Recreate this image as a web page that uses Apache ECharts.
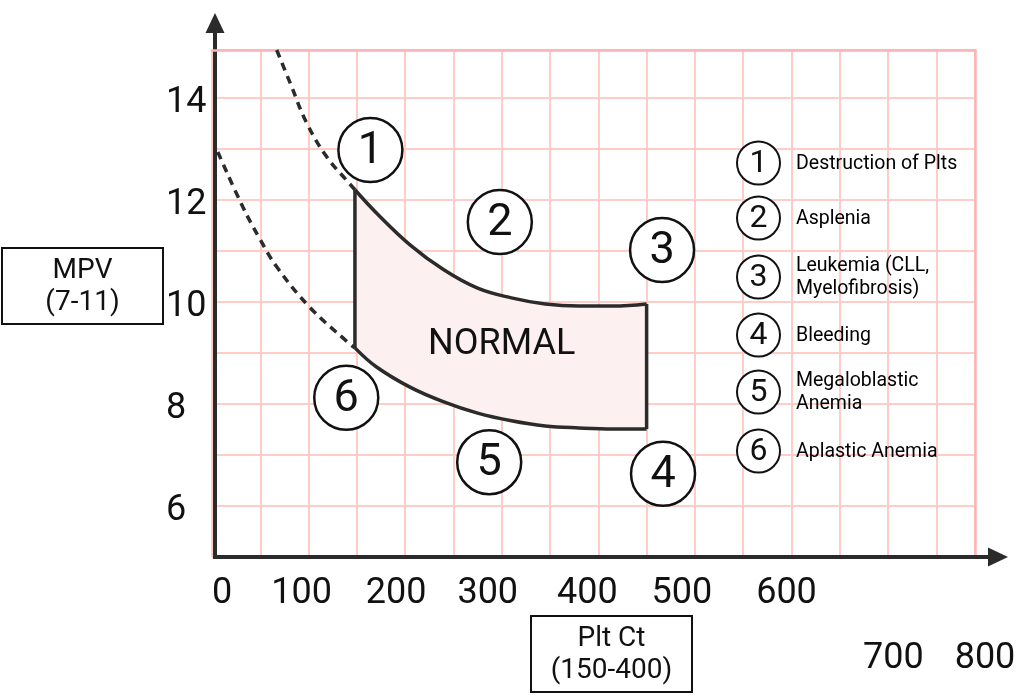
<!DOCTYPE html>
<html>
<head>
<meta charset="utf-8">
<script src="https://cdn.jsdelivr.net/npm/echarts@6/dist/echarts.min.js"></script>
<style>
html,body{margin:0;padding:0;background:#fff;}
#chart{width:1021px;height:698px;}
</style>
</head>
<body>
<div id="chart"></div>
<script>
// ---- data ----
const xLabelsTop = [0, 100, 200, 300, 400, 500, 600];
const xLabelsBottom = [700, 800];
const yLabels = [6, 8, 10, 12, 14];

// normal region boundaries (Plt count, MPV)
const upperX = [148, 170, 205, 240, 275, 310, 345, 380, 415, 450];
const upperY = [12.2, 11.75, 11.12, 10.63, 10.27, 10.08, 9.96, 9.92, 9.92, 9.96];
const lowerX = [148, 170, 205, 240, 275, 310, 345, 380, 415, 450];
const lowerY = [9.1, 8.73, 8.33, 8.04, 7.82, 7.67, 7.57, 7.53, 7.51, 7.51];

// dashed extensions
const dashUpperX = [67, 81, 98, 119, 141, 148];
const dashUpperY = [14.94, 14.29, 13.51, 12.84, 12.35, 12.2];
const dashLowerX = [6, 32, 50, 67, 101, 140, 148];
const dashLowerY = [12.94, 11.86, 11.22, 10.69, 9.9, 9.22, 9.1];

// numbered zone markers
const markerNums = ['1', '2', '3', '4', '5', '6'];
const markerX = [164, 298, 466, 467, 287, 139];
const markerY = [12.98, 11.57, 11.02, 6.63, 6.86, 8.12];

const normalLabel = 'NORMAL';
const normalLabelX = [300];
const normalLabelY = [9.16];

const legendNums = ['1', '2', '3', '4', '5', '6'];
const legendTexts = ['Destruction of Plts', 'Asplenia', 'Leukemia (CLL,\nMyelofibrosis)', 'Bleeding', 'Megaloblastic\nAnemia', 'Aplastic Anemia'];

const yTitle = 'MPV\n(7-11)';
const xTitle = 'Plt Ct\n(150-400)';

// ---- styles ----
const FONT = 'Roboto';
const INK = '#111';
const LINE = '#2b2b2b';
const GRIDPINK = '#ffcdc7';
const BORDERPINK = '#fbb3b3';
const FILL = '#fdf0f0';
const xLabelShift = {0: 10, 100: -7, 200: -9, 300: -14, 400: -11, 500: -13, 600: -5, 700: 5, 800: 0};
const legendRowY = [163, 218, 277, 335, 392, 451];

const pairs = (xs, ys) => xs.map((x, i) => [x, ys[i]]);

const rich = {};
Object.keys(xLabelShift).forEach(k => {
  const d = xLabelShift[k];
  rich['s' + k] = {fontSize: 36, fontFamily: FONT, color: INK,
    padding: [0, d < 0 ? -2 * d : 0, 0, d > 0 ? 2 * d : 0]};
});
const xFmt = list => v => list.includes(v) ? '{s' + v + '|' + v + '}' : '';
const yRich = {y: {fontSize: 36, fontFamily: FONT, color: INK, padding: [11, 0, 0, 0]}};

const chart = echarts.init(document.getElementById('chart'), null, {renderer: 'canvas'});

const graphic = [];
function box(x, y, w, h, text) {
  graphic.push({type: 'rect', shape: {x: x, y: y, width: w, height: h},
    style: {fill: '#fff', stroke: INK, lineWidth: 2}, z: 10});
  graphic.push({type: 'text', x: x + w / 2, y: y + h / 2 + 1,
    style: {text: text, fontSize: 28, fontFamily: FONT, fill: INK, align: 'center', verticalAlign: 'middle', lineHeight: 32}, z: 11});
}
box(2, 248, 161, 76, yTitle);
box(531, 616, 161, 76, xTitle);
legendNums.forEach((n, i) => {
  graphic.push({type: 'circle', shape: {cx: 758.5, cy: legendRowY[i], r: 21.5},
    style: {fill: '#fff', stroke: INK, lineWidth: 2}, z: 10});
  graphic.push({type: 'text', x: 758.5, y: legendRowY[i] + 1,
    style: {text: n, fontSize: 32, fontFamily: FONT, fill: INK, align: 'center', verticalAlign: 'middle'}, z: 11});
  graphic.push({type: 'text', x: 796, y: legendRowY[i] + 1,
    style: {text: legendTexts[i], fontSize: 19.5, fontFamily: FONT, fill: '#000', align: 'left', verticalAlign: 'middle', lineHeight: 23}, z: 11});
});

const option = {
  animation: false,
  backgroundColor: '#fff',
  textStyle: {fontFamily: FONT},
  graphic: graphic,
  grid: [
    {left: 212, top: 50, width: 763, height: 507},
    {left: 215, top: 23, width: 783, height: 534},
    {left: 212, top: 50, width: 773, height: 507}
  ],
  xAxis: [
    {gridIndex: 0, type: 'value', min: 0, max: 790, interval: 50, position: 'bottom',
      axisLine: {show: false}, axisTick: {show: false},
      splitLine: {show: true, lineStyle: {color: GRIDPINK, width: 2}},
      axisLabel: {margin: 19, color: INK, fontSize: 36, fontFamily: FONT, rich: rich,
        formatter: xFmt(xLabelsTop)}},
    {gridIndex: 0, type: 'value', min: 0, max: 790, position: 'top',
      axisLine: {show: true, onZero: false, lineStyle: {color: BORDERPINK, width: 2.5}},
      axisTick: {show: false}, axisLabel: {show: false}, splitLine: {show: false}},
    {gridIndex: 2, type: 'value', min: 0, max: 800, interval: 100, position: 'bottom', offset: 65,
      axisLine: {show: false}, axisTick: {show: false}, splitLine: {show: false},
      axisLabel: {margin: 19, color: INK, fontSize: 36, fontFamily: FONT, rich: rich,
        formatter: xFmt(xLabelsBottom)}},
    {gridIndex: 1, type: 'value', min: 0, max: 1, position: 'bottom',
      axisLine: {show: true, onZero: false, symbol: ['none', 'triangle'], symbolSize: [19, 20],
        lineStyle: {color: LINE, width: 4, cap: 'square'}},
      axisTick: {show: false}, axisLabel: {show: false}, splitLine: {show: false}}
  ],
  yAxis: [
    {gridIndex: 0, type: 'value', min: 5, max: 14.94, interval: 1,
      axisLine: {show: false}, axisTick: {show: false},
      splitLine: {show: true, lineStyle: {color: GRIDPINK, width: 2}},
      axisLabel: {margin: 46, align: 'left', color: INK, fontSize: 36, fontFamily: FONT, rich: yRich,
        formatter: v => yLabels.includes(v) ? '{y|' + v + '}' : ''}},
    {gridIndex: 0, type: 'value', min: 5, max: 14.94, position: 'right',
      axisLine: {show: true, onZero: false, lineStyle: {color: BORDERPINK, width: 2.5}},
      axisTick: {show: false}, axisLabel: {show: false}, splitLine: {show: false}},
    {gridIndex: 2, type: 'value', min: 5, max: 14.94, show: false},
    {gridIndex: 1, type: 'value', min: 0, max: 1, position: 'left',
      axisLine: {show: true, onZero: false, symbol: ['none', 'triangle'], symbolSize: [19, 20],
        lineStyle: {color: LINE, width: 4, cap: 'square'}},
      axisTick: {show: false}, axisLabel: {show: false}, splitLine: {show: false}}
  ],
  series: [
    {type: 'custom', xAxisIndex: 0, yAxisIndex: 0, z: 2, silent: true,
      data: [[upperX[0], upperY[0]]],
      renderItem: function (params, api) {
        const pts = pairs(upperX, upperY).map(p => api.coord(p))
          .concat(pairs(lowerX, lowerY).map(p => api.coord(p)).reverse());
        return {type: 'polygon', shape: {points: pts}, style: {fill: FILL, opacity: 1}};
      }},
    {type: 'line', xAxisIndex: 0, yAxisIndex: 0, z: 3, data: pairs(upperX, upperY), smooth: 0.4,
      showSymbol: false, lineStyle: {color: LINE, width: 3.5}},
    {type: 'line', xAxisIndex: 0, yAxisIndex: 0, z: 3, data: pairs(lowerX, lowerY), smooth: 0.4,
      showSymbol: false, lineStyle: {color: LINE, width: 3.5}},
    {type: 'line', xAxisIndex: 0, yAxisIndex: 0, z: 3,
      data: [[upperX[0], upperY[0]], [lowerX[0], lowerY[0]]],
      showSymbol: false, lineStyle: {color: LINE, width: 3.5}},
    {type: 'line', xAxisIndex: 0, yAxisIndex: 0, z: 3,
      data: [[upperX[upperX.length - 1], upperY[upperY.length - 1]], [lowerX[lowerX.length - 1], lowerY[lowerY.length - 1]]],
      showSymbol: false, lineStyle: {color: LINE, width: 3.5}},
    {type: 'line', xAxisIndex: 0, yAxisIndex: 0, z: 3, data: pairs(dashUpperX, dashUpperY), smooth: 0.4,
      showSymbol: false, lineStyle: {color: LINE, width: 3.5, type: [8, 6]}},
    {type: 'line', xAxisIndex: 0, yAxisIndex: 0, z: 3, data: pairs(dashLowerX, dashLowerY), smooth: 0.4,
      showSymbol: false, lineStyle: {color: LINE, width: 3.5, type: [8, 6]}},
    {type: 'scatter', xAxisIndex: 0, yAxisIndex: 0, z: 5,
      data: markerNums.map((n, i) => ({value: [markerX[i], markerY[i]], name: n})),
      symbol: 'circle', symbolSize: 64,
      itemStyle: {color: '#fff', borderColor: INK, borderWidth: 2.5, opacity: 1},
      label: {show: true, position: 'inside', formatter: p => p.name, fontSize: 45,
        fontFamily: FONT, color: INK, offset: [0, 2]}},
    {type: 'scatter', xAxisIndex: 0, yAxisIndex: 0, z: 5,
      data: normalLabelX.map((x, i) => [x, normalLabelY[i]]), symbolSize: 0,
      itemStyle: {opacity: 1},
      label: {show: true, position: 'inside', formatter: normalLabel, fontSize: 36,
        fontFamily: FONT, color: INK}}
  ]
};
chart.setOption(option);
</script>
</body>
</html>
